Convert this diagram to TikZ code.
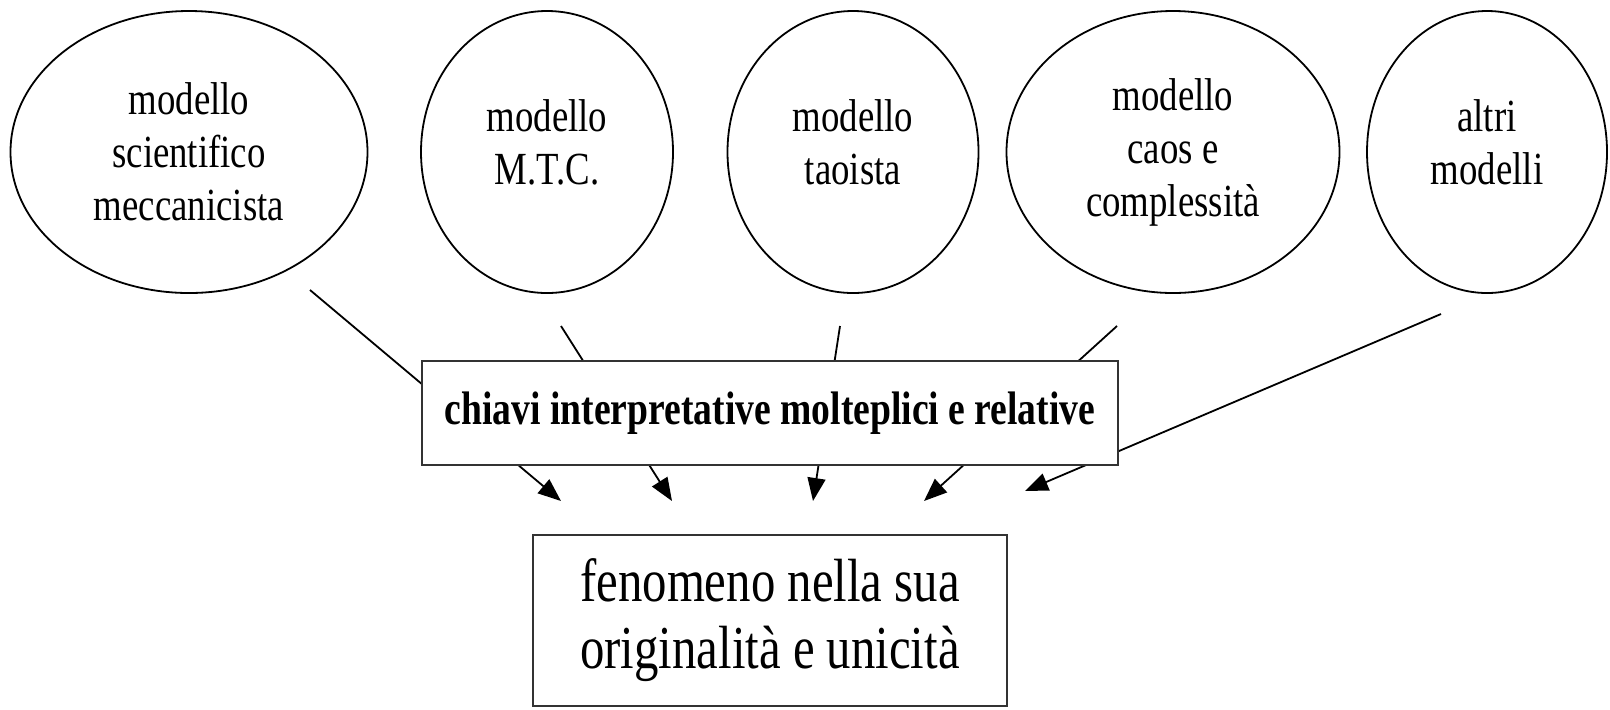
\documentclass[tikz,border=0pt]{standalone}
\usepackage{fontspec}
\setmainfont{Liberation Serif}[FakeStretch=0.8]
\usetikzlibrary{arrows.meta,shapes.geometric}

\tikzset{
  model/.style={ellipse, draw, line width=0.9pt, inner sep=0pt,
    minimum height=141pt, align=center,
    font=\fontsize{23pt}{26.5pt}\selectfont},
  twoline/.style={text depth=10pt},
  keybox/.style={rectangle, draw=black!80, line width=1.3pt, fill=white,
    minimum width=348pt, minimum height=52pt, inner sep=0pt,
    font=\bfseries\fontsize{23.5pt}{26.5pt}\selectfont},
  resultbox/.style={rectangle, draw=black!80, line width=1.3pt,
    minimum width=237pt, minimum height=85.5pt, inner sep=0pt, align=center,
    font=\fontsize{30.5pt}{33.5pt}\selectfont}
}

\begin{document}
\begin{tikzpicture}[->,>={Triangle[length=11.5pt,width=9pt]},line width=0.9pt,
    node distance=157pt]
  \useasboundingbox (0,0) rectangle (805pt,-354.5pt);

  % the models
  \node[model,minimum width=178.5pt] (e1) at (94.5pt,-76pt) {modello\\scientifico\\meccanicista};
  \node[model,twoline,minimum width=126pt] (e2) [right of=e1, xshift=22pt] {modello\\M.T.C.};
  \node[model,twoline,minimum width=125.5pt] (e3) [right of=e2, xshift=-4pt] {modello\\taoista};
  \node[model,minimum width=166.5pt] (e4) [right of=e3, xshift=3pt] {modello\\caos e\\complessità};
  \node[model,twoline,minimum width=120pt] (e5) [right of=e4] {altri\\modelli};

  % ends of the connectors
  \coordinate (s1) at (155pt,-145pt);
  \coordinate (s2) at (280.5pt,-163pt);
  \coordinate (s3) at (420pt,-163pt);
  \coordinate (s4) at (558.5pt,-163pt);
  \coordinate (s5) at (720.5pt,-157pt);
  \coordinate (t1) at (280.5pt,-250.5pt);
  \coordinate (t2) at (336pt,-250.5pt);
  \coordinate (t3) at (406.5pt,-250.5pt);
  \coordinate (t4) at (462pt,-250.5pt);
  \coordinate (t5) at (512.5pt,-245.5pt);

  \draw[-]
  (s1) edge[->] (t1)
  (s2) edge[->] (t2)
  (s3) edge[->] (t3)
  (s4) edge[->] (t4)
  (s5) edge[->] (t5);

  \node[keybox] (key) at (385pt,-206.5pt) {chiavi interpretative molteplici e relative};
  \node[resultbox] (fen) [below of=key, node distance=103.75pt] {fenomeno nella sua\\originalità e unicità};

\end{tikzpicture}
\end{document}
